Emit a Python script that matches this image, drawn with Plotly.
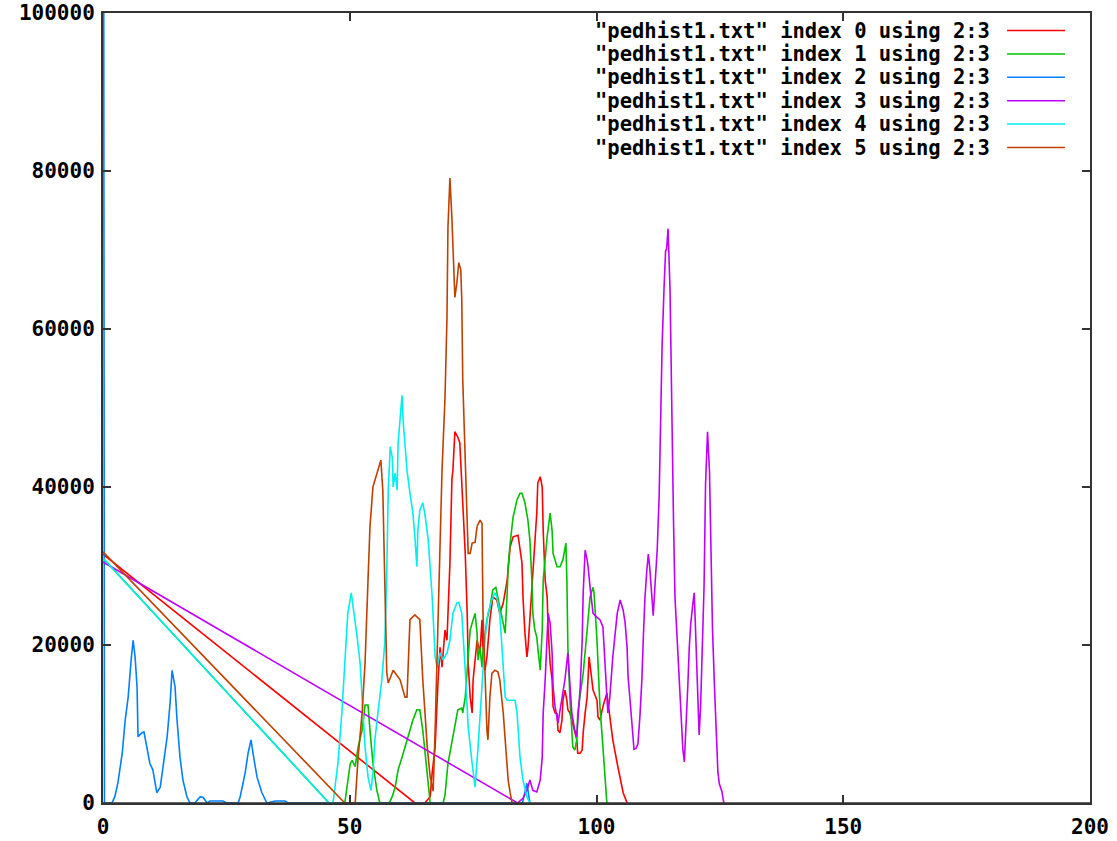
import plotly.graph_objects as go

# ---------------- data ----------------
series_names = [
    '"pedhist1.txt" index 0 using 2:3',
    '"pedhist1.txt" index 1 using 2:3',
    '"pedhist1.txt" index 2 using 2:3',
    '"pedhist1.txt" index 3 using 2:3',
    '"pedhist1.txt" index 4 using 2:3',
    '"pedhist1.txt" index 5 using 2:3',
]
series_colors = ["#ff0000", "#00c000", "#0080ff", "#c000ff", "#00eeee", "#c04000"]

x0 = [0, 63.2, 65.2, 66.3, 66.7, 67.3, 67.9, 68.3, 68.7, 68.9, 69.3, 69.7, 69.9, 70.3, 70.7, 70.9,
      71.3, 71.9, 72.3, 72.7, 72.9, 73.4, 73.8, 74.0, 74.4, 74.8, 75.0, 75.4, 75.8, 76.4, 76.8, 77.0,
      77.4, 77.8, 78.4, 79.0, 79.8, 80.4, 81.1, 81.9, 82.5, 83.1, 84.1, 84.9, 85.1, 85.5, 85.9, 86.1,
      86.9, 87.1, 87.5, 87.9, 88.1, 88.6, 89.0, 89.2, 89.6, 90.0, 90.2, 90.6, 91.0, 91.2, 91.6, 92.0,
      92.2, 92.6, 93.0, 93.2, 93.6, 94.0, 94.2, 94.6, 95.0, 95.6, 96.0, 96.2, 96.7, 97.1, 97.3, 97.7,
      98.1, 98.5, 98.9, 99.3, 100.1, 100.3, 100.7, 101.3, 102.1, 102.7, 103.3, 104.2, 104.8, 105.4, 106.2]
y0 = [31500, 0, 0, 800, 3800, 7100, 15600, 19700, 17200, 19000, 21900, 20600, 24000, 30400, 40900, 42100,
      47000, 46300, 45600, 40900, 37500, 31600, 24000, 17700, 13400, 11400, 15600, 18500, 20600, 19000, 23200, 19700,
      16800, 18500, 23200, 26100, 25700, 24000, 25300, 28200, 32400, 33700, 33900, 30400, 26100, 21500, 18500, 19500,
      27000, 29500, 33300, 36700, 40500, 41300, 40000, 34500, 28200, 26100, 21900, 17700, 15600, 12200, 11400, 11300,
      9200, 8900, 10500, 13000, 14300, 13000, 11800, 11400, 10500, 9200, 8000, 6300, 6300, 6700, 8900, 11400,
      13400, 18500, 16400, 14300, 13000, 10900, 10500, 12200, 13900, 10900, 8000, 5000, 2900, 1300, 0]

x1 = [0, 45.8, 49.0, 49.4, 50.1, 50.5, 51.1, 51.7, 52.5, 53.1, 53.7, 54.1, 54.7, 55.5, 56.1, 58.0,
      58.6, 59.2, 59.8, 60.6, 61.2, 61.8, 62.8, 63.6, 64.2, 64.8, 65.7, 66.3, 68.9, 69.3, 69.9, 70.7,
      71.3, 71.9, 72.7, 72.9, 73.4, 73.8, 74.0, 74.4, 75.0, 75.4, 75.8, 76.0, 76.4, 76.8, 77.0, 77.8,
      78.4, 79.0, 79.6, 80.0, 80.8, 81.5, 81.9, 82.1, 82.5, 83.1, 83.9, 84.5, 84.9, 85.5, 86.1, 86.5,
      86.9, 87.1, 87.5, 87.9, 88.1, 88.6, 89.0, 89.2, 90.0, 90.6, 91.0, 91.2, 92.0, 92.6, 93.2, 93.8,
      94.0, 94.2, 94.6, 95.0, 95.2, 95.6, 96.0, 96.2, 96.7, 97.3, 98.1, 98.7, 99.3, 99.5, 100.1, 100.7,
      101.3, 101.7, 102.1]
y1 = [31000, 0, 0, 1600, 5000, 5400, 4600, 7100, 9200, 12400, 12400, 9200, 5000, 1600, 0, 0,
      800, 2000, 4200, 5800, 7100, 8400, 10500, 11800, 11800, 9200, 3800, 0, 0, 1000, 5000, 7600,
      9600, 11800, 12000, 11400, 13400, 16800, 19700, 21900, 23200, 24000, 21500, 18100, 19700, 17200, 19000, 23200,
      24800, 27000, 27300, 26100, 24000, 21500, 26600, 29900, 32900, 36200, 38400, 39200, 39200, 38000, 35800, 33300,
      28200, 24000, 21900, 21000, 19700, 16800, 21900, 28200, 33700, 36700, 34500, 31600, 29900, 29900, 30800, 32900,
      28200, 19700, 13400, 9200, 7100, 6700, 8000, 11400, 13400, 16400, 21900, 26100, 27300, 26600, 20600, 12200,
      7100, 2900, 0]

x2 = [0, 0.3, 1.8, 2.4, 3.0, 3.9, 4.5, 5.1, 5.7, 6.1, 6.5, 6.9, 7.1, 7.9, 8.3, 8.9,
      9.5, 10.1, 10.9, 11.6, 12.2, 13.0, 13.6, 14.0, 14.6, 15.0, 15.6, 16.2, 17.0, 17.6, 18.6, 19.7,
      20.3, 21.1, 21.7, 24.3, 25.1, 27.4, 27.8, 28.8, 29.4, 30.0, 30.4, 31.2, 32.2, 33.2, 34.9, 36.9,
      37.5, 85.0, 85.9, 86.5]
y2 = [200000, 0, 0, 800, 2500, 6300, 10500, 13400, 18100, 20600, 18500, 14700, 8400, 8900, 9000, 7100,
      5000, 4200, 1300, 2000, 5000, 8400, 12700, 16800, 14700, 10500, 5800, 2900, 800, 0, 0, 800,
      700, 0, 250, 250, 0, 0, 800, 3800, 6300, 8000, 6300, 3300, 1300, 0, 250, 250,
      0, 0, 2500, 0]

x3 = [0, 84.0, 85.1, 85.9, 86.5, 87.1, 87.9, 88.6, 89.0, 89.2, 89.6, 90.0, 90.2, 90.6, 91.0, 91.2,
      91.6, 92.2, 93.0, 93.6, 94.2, 94.6, 95.0, 95.6, 96.0, 96.7, 97.1, 97.3, 97.7, 98.1, 98.3, 98.7,
      99.3, 100.1, 100.7, 101.3, 101.7, 102.1, 102.3, 102.7, 103.3, 104.2, 104.8, 105.4, 105.8, 106.2, 106.4, 106.8,
      107.2, 107.6, 108.0, 108.4, 108.8, 109.2, 109.5, 109.8, 110.2, 110.5, 110.8, 111.2, 111.5, 111.9, 112.3, 112.7,
      113.0, 113.3, 113.7, 114.0, 114.2, 114.5, 114.9, 115.2, 115.6, 115.9, 116.4, 116.8, 117.1, 117.5, 117.8, 118.1,
      118.5, 118.8, 119.1, 119.5, 119.8, 120.0, 120.3, 120.6, 120.8, 121.1, 121.4, 121.8, 122.1, 122.5, 122.9, 123.2,
      123.5, 123.9, 124.2, 124.6, 124.9, 125.4, 125.8]
y3 = [30500, 0, 600, 1600, 2900, 1600, 1400, 2900, 5800, 11400, 15600, 20600, 24000, 22800, 19000, 14700,
      12200, 10100, 13000, 15600, 19000, 15600, 11400, 9200, 8400, 14700, 20600, 26600, 32000, 30800, 29900, 27300,
      24000, 23500, 23200, 22300, 17700, 13400, 11400, 13400, 18500, 24000, 25700, 24400, 22800, 19700, 16000, 13000,
      9200, 6800, 6900, 7500, 11000, 15700, 21100, 25800, 29500, 31500, 29700, 26600, 23700, 28100, 32000, 38900,
      48700, 58100, 65400, 69900, 70100, 72700, 65000, 50800, 35900, 26100, 20600, 15300, 11300, 6800, 5200, 8900,
      14800, 19700, 22700, 25100, 26600, 23200, 17700, 11800, 8600, 12300, 18700, 27600, 40400, 47000, 41900, 32300,
      22200, 14800, 9400, 3900, 2400, 1500, 0]

x4 = [0, 45.8, 46.6, 47.6, 48.4, 49.0, 49.6, 50.3, 50.7, 51.5, 52.1, 52.7, 53.1, 53.7, 54.3, 54.7,
      55.1, 55.7, 56.5, 57.1, 57.5, 57.8, 58.2, 58.6, 58.8, 59.2, 59.6, 59.8, 60.2, 60.6, 60.8, 61.2,
      61.6, 62.2, 62.8, 63.2, 63.6, 63.8, 64.2, 64.8, 65.2, 65.9, 66.7, 67.3, 67.7, 68.3, 68.9, 69.7,
      70.3, 70.9, 71.7, 72.1, 72.7, 73.4, 74.0, 74.8, 75.4, 76.0, 76.8, 77.4, 78.0, 78.8, 79.4, 79.8,
      80.4, 81.1, 81.5, 81.9, 82.9, 83.5, 83.9, 84.5, 85.1, 85.9, 86.5]
y4 = [31000, 0, 0, 5000, 11400, 17700, 24000, 26600, 24800, 21000, 17700, 11400, 7100, 3300, 1600, 3800,
      8000, 11400, 15600, 20300, 29100, 39600, 45100, 43800, 40000, 41800, 39600, 45600, 48900, 51600, 48500, 45100,
      42100, 39200, 36700, 33700, 29900, 34500, 37100, 38000, 36700, 33300, 26100, 18500, 17200, 19000, 18100, 19000,
      20600, 24000, 25300, 25400, 24000, 16800, 9600, 5000, 2000, 7100, 15600, 20600, 24000, 25700, 26600, 26100,
      24000, 17700, 13400, 13000, 13000, 13000, 11400, 5800, 2900, 800, 0]

x5 = [0, 49.0, 51.1, 51.7, 52.5, 53.1, 53.7, 54.1, 54.7, 55.7, 56.3, 56.7, 57.1, 57.5, 57.8, 58.8,
      60.2, 61.2, 61.6, 62.2, 63.2, 64.2, 64.8, 65.7, 66.3, 66.9, 67.3, 67.7, 67.9, 68.3, 68.7, 69.3,
      69.7, 69.9, 70.3, 70.7, 70.9, 71.3, 71.7, 72.1, 72.5, 72.7, 72.9, 73.4, 73.8, 74.0, 74.4, 74.8,
      75.4, 75.8, 76.4, 76.8, 77.0, 77.4, 77.8, 78.0, 78.4, 78.8, 79.4, 80.0, 80.4, 81.1, 81.9, 82.1,
      82.5, 82.9]
y5 = [31800, 0, 0, 5800, 11400, 17700, 28200, 35000, 40000, 42100, 43400, 39600, 29100, 16500, 15200, 16800,
      15600, 13400, 13400, 23200, 23800, 23200, 15600, 7100, 3300, 1500, 9200, 17700, 24000, 32400, 42100, 51300,
      61400, 72900, 79100, 74000, 71000, 64000, 65800, 68400, 67500, 63700, 53500, 43400, 38400, 31600, 31600, 32900,
      33000, 35000, 35800, 35400, 24000, 15600, 9200, 8000, 13400, 16400, 16800, 16600, 15600, 11400, 5000, 2900,
      1300, 0]

series_x = [x0, x1, x2, x3, x4, x5]
series_y = [y0, y1, y2, y3, y4, y5]

x_ticks = [0, 50, 100, 150, 200]
y_ticks = [0, 20000, 40000, 60000, 80000, 100000]

# ---------------- figure ----------------
FONT = "DejaVu Sans Mono"
fig = go.Figure()
for xs, ys, name, col in zip(series_x, series_y, series_names, series_colors):
    fig.add_trace(go.Scatter(x=xs, y=ys, mode="lines", name=name,
                             line=dict(color=col, width=1.6), showlegend=False))

# gnuplot-style key: text on the left, line sample on the right
row_h = 23.4 / 790.0
y_first = 1 - (30.5 - 13) / 790.0
for i, (name, col) in enumerate(zip(series_names, series_colors)):
    yy = y_first - i * row_h
    fig.add_annotation(x=0.9007, y=yy, xref="paper", yref="paper", text=name,
                       showarrow=False, xanchor="right", yanchor="middle",
                       font=dict(family=FONT, size=20.5, color="#000000", weight="bold"))
    fig.add_shape(type="line", xref="paper", yref="paper", x0=0.916, x1=0.9747,
                  y0=yy, y1=yy, line=dict(color=col, width=1.5))

# bottom border drawn over the data so zero-level segments are hidden, as in gnuplot
fig.add_shape(type="line", xref="paper", yref="paper", x0=0, x1=1, y0=0, y1=0,
              layer="above", line=dict(color="#333333", width=1.7))

axis_common = dict(showline=True, linecolor="#333333", linewidth=2, mirror="ticks",
                   ticks="inside", ticklen=8, tickwidth=1.5, tickcolor="#333333",
                   showgrid=False, zeroline=False, automargin=False, layer="above traces",
                   tickfont=dict(family=FONT, size=21, color="#000000", weight="bold"))

fig.update_layout(
    width=1117, height=841,
    margin=dict(l=103, r=27, t=13, b=38),
    paper_bgcolor="white", plot_bgcolor="white",
    xaxis=dict(range=[0, 200], tickvals=x_ticks, ticklabelstandoff=4, **axis_common),
    yaxis=dict(range=[0, 100000], tickvals=y_ticks, tickformat="d", ticklabelstandoff=2, **axis_common),
)

fig.write_html("out.html")
